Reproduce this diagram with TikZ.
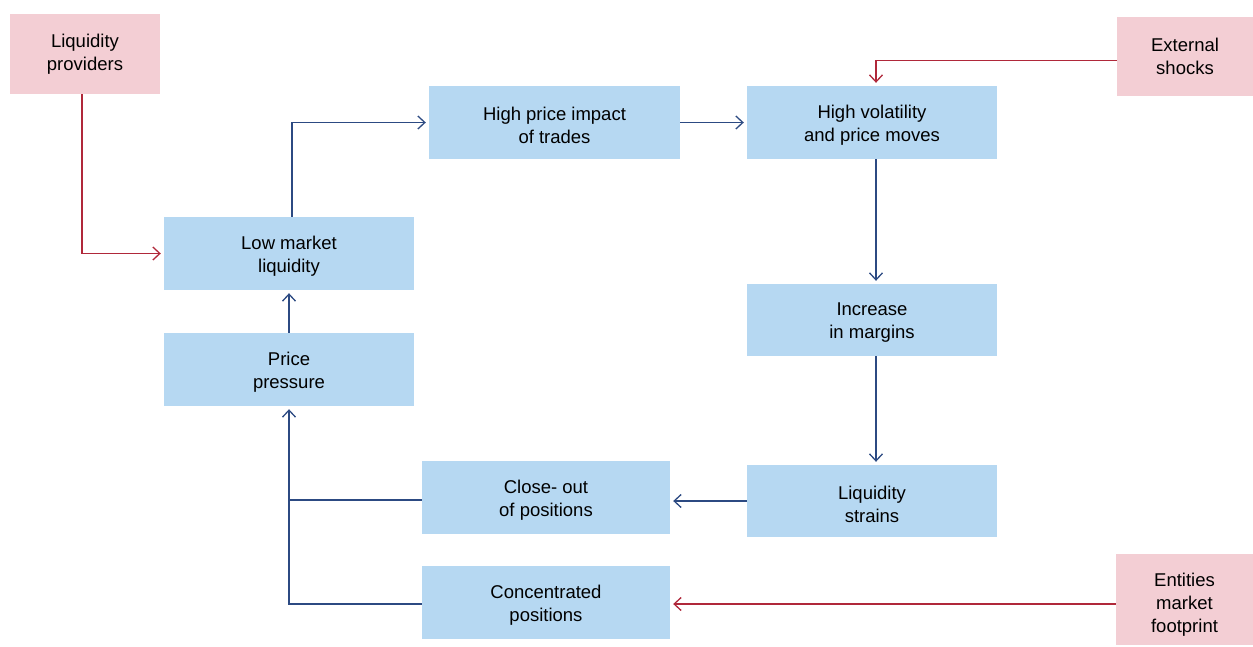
\documentclass[tikz,border=0pt]{standalone}
\usepackage{fontspec}
\setmainfont{Liberation Sans}
\usetikzlibrary{arrows.meta}
\definecolor{boxblue}{RGB}{182,216,242}
\definecolor{boxpink}{RGB}{243,206,212}
\definecolor{lineblue}{RGB}{44,74,130}
\definecolor{linered}{RGB}{176,40,58}
\tikzset{
  txt/.style={align=center, inner sep=0pt, font=\fontsize{18.5}{23}\selectfont},
  bluebox/.style={rectangle, fill=boxblue, minimum width=250pt, minimum height=73pt, inner sep=0pt,
    label={[txt, yshift=-3pt]center:{#1}}},
  pinkbox/.style={rectangle, fill=boxpink, txt},
  bluearrow/.style={draw=lineblue, line width=1.4pt, -{Straight Barb[length=7pt,width=13pt,line width=1.3pt]}, shorten >=3pt},
  redarrow/.style={draw=linered, line width=1.4pt, -{Straight Barb[length=7pt,width=13pt,line width=1.3pt]}, shorten >=3pt},
  blueline/.style={draw=lineblue, line width=1.4pt}
}
\begin{document}
\begin{tikzpicture}[x=1pt,y=-1pt]
\useasboundingbox (0,0) rectangle (1253,646);
\node[pinkbox, minimum width=150pt, minimum height=80pt] (lp) at (85,54) {Liquidity\\providers};
\node[pinkbox, minimum width=136pt, minimum height=79pt] (ext) at (1185,56.5) {External\\shocks};
\node[rectangle, fill=boxpink, minimum width=137pt, minimum height=91pt, label={[txt, yshift=-5pt]center:{Entities\\market\\footprint}}] (ent) at (1184.5,599.5) {};
\node[bluebox={High price impact\\of trades}, minimum width=251pt] (hpi) at (554.5,122.5) {};
\node[bluebox={High volatility\\and price moves}] (hv) at (872,122.5) {};
\node[bluebox={Low market\\liquidity}] (lm) at (289,253.5) {};
\node[bluebox={Price\\pressure}] (pp) at (289,369.5) {};
\node[bluebox={Increase\\in margins}, minimum height=72pt] (inc) at (872,320) {};
\node[bluebox={Liquidity\\strains}, minimum height=72pt] (ls) at (872,501) {};
\node[bluebox={Close- out\\of positions}, minimum width=248pt] (co) at (546,497.5) {};
\node[bluebox={Concentrated\\positions}, minimum width=248pt] (conc) at (546,602.5) {};

\draw[redarrow] ([xshift=-3pt]lp.south) |- (lm.west);
\draw[bluearrow] ([xshift=3pt]lm.north) |- (hpi.west);
\draw[bluearrow] (hpi.east) -- (hv.west);
\draw[redarrow] ([yshift=-4pt]ext.west) -| ([xshift=4pt]hv.north);
\draw[bluearrow] ([xshift=4pt]hv.south) -- ([xshift=4pt]inc.north);
\draw[bluearrow] ([xshift=4pt]inc.south) -- ([xshift=4pt]ls.north);
\draw[bluearrow] (ls.west) -- (ls.west -| co.east);
\draw[blueline] ([yshift=-2.5pt]co.west) -- ([yshift=-2.5pt]co.west -| pp.south);
\draw[bluearrow] ([yshift=-1.5pt]conc.west) -| (pp.south);
\draw[bluearrow] (pp.north) -- (lm.south);
\draw[redarrow] ([yshift=-1.5pt]ent.west |- conc.east) -- ([yshift=-1.5pt]conc.east);
\end{tikzpicture}
\end{document}
